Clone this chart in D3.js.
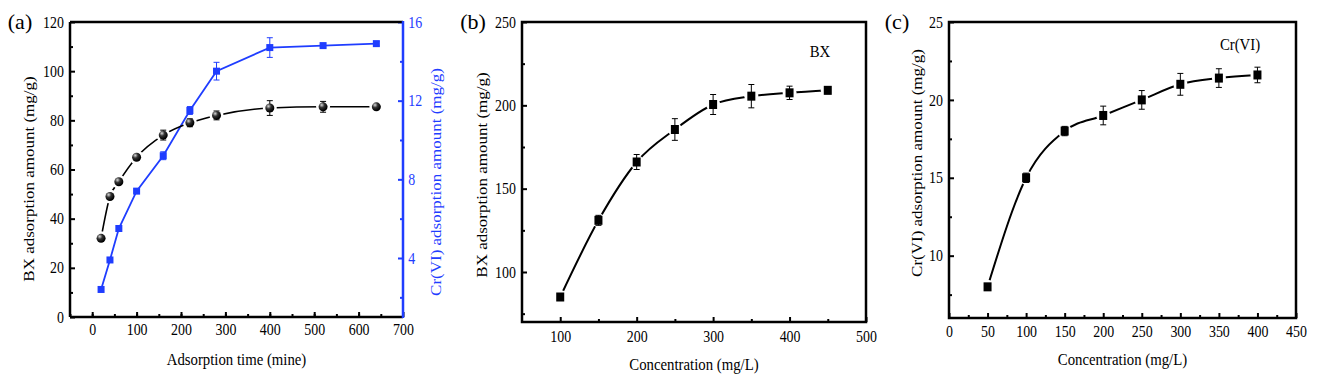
<!DOCTYPE html>
<html>
<head>
<meta charset="utf-8">
<script src="https://cdn.jsdelivr.net/npm/d3@7"></script>
<style>
  body { margin: 0; background: #fff; }
</style>
</head>
<body>
<div id="chart"></div>
<script>
// data
const timeX = [20, 40, 60, 100, 160, 220, 280, 400, 520, 640];
const bxTime = [32, 49, 55, 65, 74, 79, 82, 85, 85.5, 85.5];
const bxTimeErr = [0, 0, 0, 1, 2, 1.6, 1.8, 3, 2.2, 0];
const crTime = [2.4, 3.9, 5.5, 7.4, 9.2, 11.5, 13.5, 14.7, 14.8, 14.9];
const crTimeErr = [0, 0, 0, 0, 0.2, 0.2, 0.45, 0.5, 0.1, 0.1];

const concB = [100, 150, 200, 250, 300, 350, 400, 450];
const bxConc = [85, 131, 166, 185.5, 200.5, 205.5, 207.5, 209];
const bxConcErr = [0, 3, 4.5, 6.5, 6, 7, 4, 2];

const concC = [50, 100, 150, 200, 250, 300, 350, 400];
const crConc = [8, 15, 18, 19, 20, 21, 21.4, 21.6];
const crConcErr = [0, 0.3, 0.3, 0.6, 0.6, 0.7, 0.6, 0.5];

const W = 1317, H = 379;
const BLUE = '#1f3dff';
const FONT = 'Liberation Serif, Times New Roman, serif';
const SX = 0.87;   // the source figure is squeezed horizontally

const svg = d3.select('#chart').append('svg')
  .attr('width', W).attr('height', H)
  .attr('font-family', FONT);
svg.append('rect').attr('width', W).attr('height', H).attr('fill', '#fff');
const defs = svg.append('defs');

// sphere gradient for the (a) BX markers
const sg = defs.append('radialGradient').attr('id', 'sphere')
  .attr('cx', '35%').attr('cy', '30%').attr('r', '65%');
sg.append('stop').attr('offset', '0%').attr('stop-color', '#d8d8d8');
sg.append('stop').attr('offset', '45%').attr('stop-color', '#333');
sg.append('stop').attr('offset', '100%').attr('stop-color', '#000');

// axis helper: inside ticks, major + minor
function drawAxis(g, axisFn, scale, major, minor, opts) {
  const col = opts.color || '#000';
  const a = g.append('g').attr('transform', opts.transform)
    .call(axisFn(scale).tickValues(minor).tickFormat('').tickSizeInner(-3).tickSizeOuter(0));
  a.select('.domain').remove();
  a.selectAll('line').attr('stroke', col).attr('stroke-width', 2);
  const b = g.append('g').attr('transform', opts.transform)
    .call(axisFn(scale).tickValues(major).tickSizeInner(-5).tickSizeOuter(0).tickPadding(opts.pad || 7));
  b.attr('font-family', FONT).attr('font-size', 16);
  b.select('.domain').remove();
  b.selectAll('line').attr('stroke', col).attr('stroke-width', 2);
  b.selectAll('text').attr('fill', col).attr('font-size', 16).attr('font-family', FONT)
    .attr('transform', `scale(${SX},1)`);
  return b;
}

function errorBars(g, xs, ys, es, x, y, col) {
  xs.forEach((d, i) => {
    if (!es[i]) return;
    const cx = x(d), y0 = y(ys[i] - es[i]), y1 = y(ys[i] + es[i]);
    g.append('line').attr('x1', cx).attr('x2', cx).attr('y1', y0).attr('y2', y1)
      .attr('stroke', col).attr('stroke-width', 1);
    [y0, y1].forEach(yy => g.append('line')
      .attr('x1', cx - 3).attr('x2', cx + 3).attr('y1', yy).attr('y2', yy)
      .attr('stroke', col).attr('stroke-width', 1));
  });
}

// mask that cuts the line around each marker
function gapMask(id, xs, ys, x, y, r) {
  const m = defs.append('mask').attr('id', id).attr('maskUnits', 'userSpaceOnUse')
    .attr('x', 0).attr('y', 0).attr('width', W).attr('height', H);
  m.append('rect').attr('width', W).attr('height', H).attr('fill', '#fff');
  xs.forEach((d, i) => m.append('circle').attr('cx', x(d)).attr('cy', y(ys[i])).attr('r', r).attr('fill', '#000'));
}

function frame(g, L, T, R, B) {
  g.append('rect').attr('x', L).attr('y', T).attr('width', R - L).attr('height', B - T)
    .attr('fill', 'none').attr('stroke', '#000').attr('stroke-width', 2.5);
}

function label(text, x, y, size, opts = {}) {
  const sx = opts.sx == null ? SX : opts.sx;
  const t = svg.append('text').text(text)
    .attr('x', 0).attr('y', 0)
    .attr('font-size', size)
    .attr('font-family', FONT)
    .attr('text-anchor', opts.anchor || 'middle')
    .attr('fill', opts.color || '#000')
    .attr('transform', `translate(${x},${y}) scale(${sx},1)` + (opts.rotate ? ' rotate(-90)' : ''));
  return t;
}

// ---------- panel (a) ----------
{
  const L = 70, T = 22, R = 403, B = 317;
  const x = d3.scaleLinear().domain([-50, 700]).range([L, R]);
  const yL = d3.scaleLinear().domain([0, 120]).range([B, T]);
  const yR = d3.scaleLinear().domain([1, 16]).range([B, T]);
  const g = svg.append('g');

  drawAxis(g, d3.axisBottom, x, d3.range(0, 701, 100), d3.range(-50, 700, 50), { transform: `translate(0,${B})`, pad: 7 });
  drawAxis(g, d3.axisLeft, yL, d3.range(0, 121, 20), d3.range(10, 120, 20), { transform: `translate(${L},0)`, pad: 7 });
  drawAxis(g, d3.axisRight, yR, [4, 8, 12, 16], [2, 6, 10, 14], { transform: `translate(${R},0)`, pad: 6, color: BLUE });

  g.append('line').attr('x1', L).attr('x2', R).attr('y1', T).attr('y2', T).attr('stroke', '#000').attr('stroke-width', 2.5);
  g.append('line').attr('x1', L).attr('x2', R).attr('y1', B).attr('y2', B).attr('stroke', '#000').attr('stroke-width', 2.5);
  g.append('line').attr('x1', L).attr('x2', L).attr('y1', T).attr('y2', B).attr('stroke', '#000').attr('stroke-width', 2.5);
  g.append('line').attr('x1', R).attr('x2', R).attr('y1', T - 1).attr('y2', B + 1).attr('stroke', BLUE).attr('stroke-width', 2.5);

  // blue series
  const blueLine = d3.line().x((d, i) => x(timeX[i])).y(d => yR(d));
  g.append('path').datum(crTime).attr('d', blueLine)
    .attr('fill', 'none').attr('stroke', BLUE).attr('stroke-width', 1.8);
  errorBars(g, timeX, crTime, crTimeErr, x, yR, BLUE);
  g.selectAll('.bsq').data(crTime).enter().append('rect')
    .attr('x', (d, i) => x(timeX[i]) - 3.5).attr('y', d => yR(d) - 3.5)
    .attr('width', 7).attr('height', 7).attr('fill', BLUE);

  // black series
  gapMask('gapA', timeX, bxTime, x, yL, 7);
  const blackLine = d3.line().curve(d3.curveMonotoneX).x((d, i) => x(timeX[i])).y(d => yL(d));
  g.append('path').datum(bxTime).attr('d', blackLine).attr('mask', 'url(#gapA)')
    .attr('fill', 'none').attr('stroke', '#000').attr('stroke-width', 1.6);
  errorBars(g, timeX, bxTime, bxTimeErr, x, yL, '#000');
  g.selectAll('.sph').data(bxTime).enter().append('circle')
    .attr('cx', (d, i) => x(timeX[i])).attr('cy', d => yL(d)).attr('r', 4.5)
    .attr('fill', 'url(#sphere)');

  label('(a)', 20, 29, 22, { sx: 1 });
  label('BX adsorption amount (mg/g)', 34, 179, 17, { rotate: true });
  label('Cr(VI) adsorption amount (mg/g)', 441, 182, 17, { rotate: true, color: BLUE });
  label('Adsorption time (mine)', (L + R) / 2, 365, 17);
}

// ---------- panel (b) ----------
{
  const L = 522, T = 22, R = 866, B = 322;
  const x = d3.scaleLinear().domain([50, 500]).range([L, R]);
  const y = d3.scaleLinear().domain([70, 250]).range([B, T]);
  const g = svg.append('g');

  drawAxis(g, d3.axisBottom, x, d3.range(100, 501, 100), d3.range(150, 500, 100), { transform: `translate(0,${B})`, pad: 9 });
  drawAxis(g, d3.axisLeft, y, [100, 150, 200, 250], [75, 125, 175, 225], { transform: `translate(${L},0)`, pad: 7 });
  frame(g, L, T, R, B);

  gapMask('gapB', concB, bxConc, x, y, 7);
  const line = d3.line().curve(d3.curveMonotoneX).x((d, i) => x(concB[i])).y(d => y(d));
  g.append('path').datum(bxConc).attr('d', line).attr('mask', 'url(#gapB)')
    .attr('fill', 'none').attr('stroke', '#000').attr('stroke-width', 2);
  errorBars(g, concB, bxConc, bxConcErr, x, y, '#000');
  g.selectAll('.sq').data(bxConc).enter().append('rect')
    .attr('x', (d, i) => x(concB[i]) - 4).attr('y', d => y(d) - 4.5)
    .attr('width', 8).attr('height', 9).attr('fill', '#000');

  label('(b)', 473, 29, 22, { sx: 1 });
  label('BX', 820, 57, 17);
  label('BX adsorption amount (mg/g)', 487, 175, 17, { rotate: true });
  label('Concentration (mg/L)', (L + R) / 2, 370, 17);
}

// ---------- panel (c) ----------
{
  const L = 949, T = 22, R = 1296, B = 318;
  const x = d3.scaleLinear().domain([0, 450]).range([L, R]);
  const y = d3.scaleLinear().domain([6, 25]).range([B, T]);
  const g = svg.append('g');

  drawAxis(g, d3.axisBottom, x, d3.range(0, 451, 50), d3.range(25, 450, 50), { transform: `translate(0,${B})`, pad: 8 });
  drawAxis(g, d3.axisLeft, y, [10, 15, 20, 25], [7.5, 12.5, 17.5, 22.5], { transform: `translate(${L},0)`, pad: 7 });
  frame(g, L, T, R, B);

  gapMask('gapC', concC, crConc, x, y, 7);
  const line = d3.line().curve(d3.curveMonotoneX).x((d, i) => x(concC[i])).y(d => y(d));
  g.append('path').datum(crConc).attr('d', line).attr('mask', 'url(#gapC)')
    .attr('fill', 'none').attr('stroke', '#000').attr('stroke-width', 2);
  errorBars(g, concC, crConc, crConcErr, x, y, '#000');
  g.selectAll('.sq').data(crConc).enter().append('rect')
    .attr('x', (d, i) => x(concC[i]) - 4).attr('y', d => y(d) - 4.5)
    .attr('width', 8).attr('height', 9).attr('fill', '#000');

  label('(c)', 897, 29, 22, { sx: 1 });
  label('Cr(VI)', 1240, 50, 17);
  label('Cr(VI) adsorption amount (mg/g)', 922, 163, 17, { rotate: true });
  label('Concentration (mg/L)', (L + R) / 2, 365, 17);
}
</script>
</body>
</html>
